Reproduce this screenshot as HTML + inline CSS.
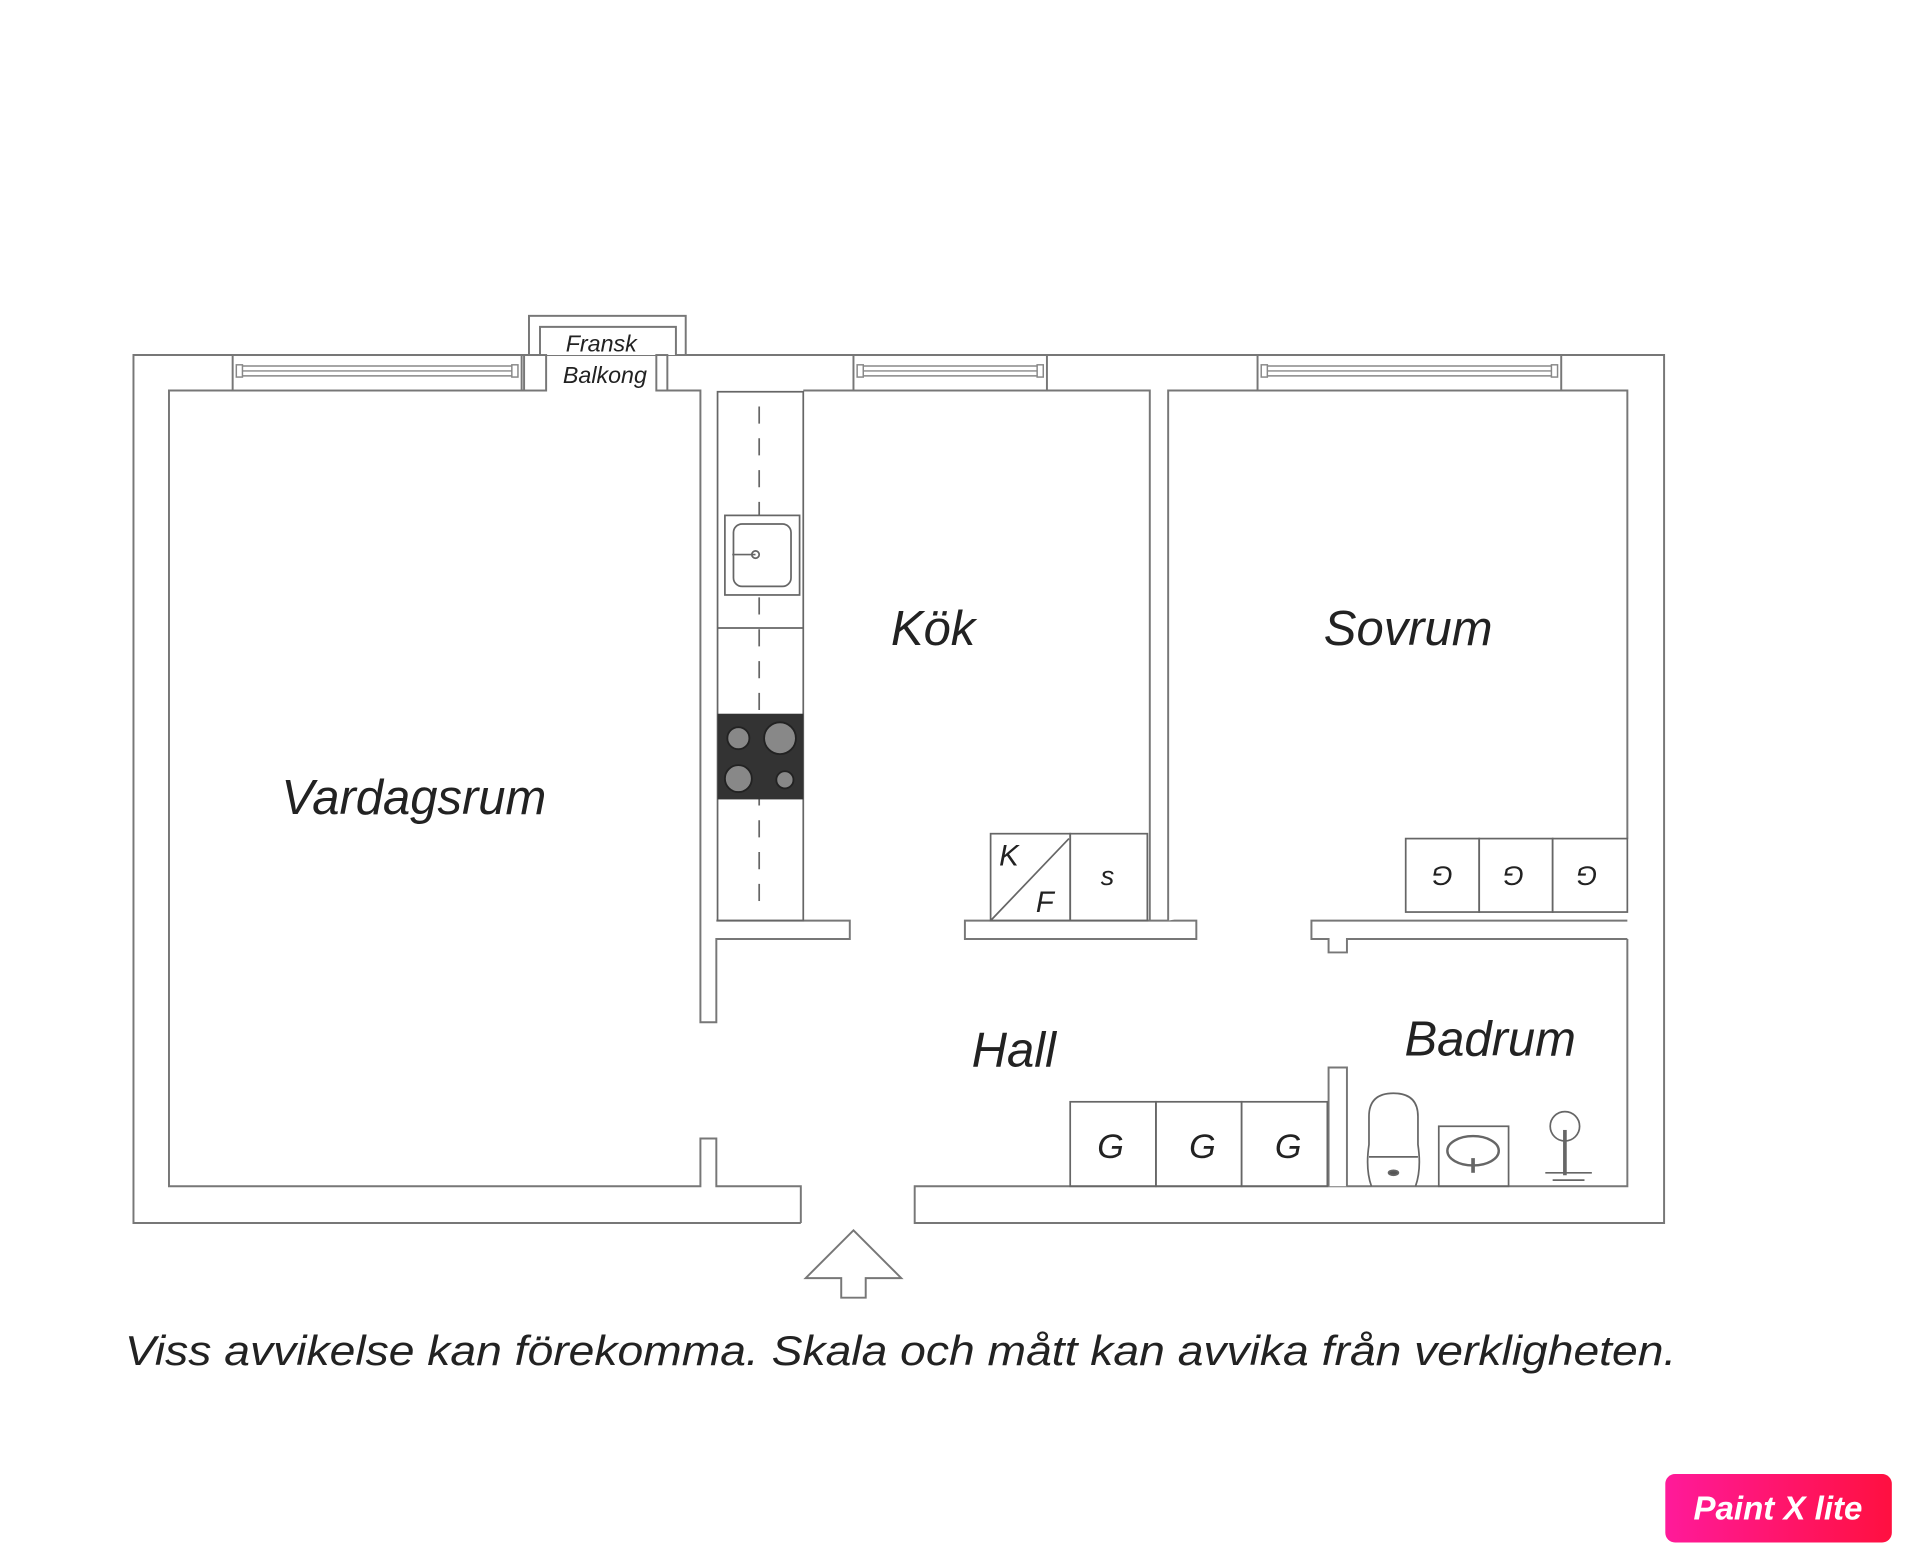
<!DOCTYPE html>
<html><head><meta charset="utf-8"><style>
html,body{margin:0;padding:0;background:#fff;width:1920px;height:1567px;overflow:hidden}
svg{display:block}
text{font-family:"Liberation Sans",sans-serif;font-style:italic;fill:#222}
</style></head><body>
<svg width="1920" height="1567" viewBox="0 0 1568 1280" preserveAspectRatio="none" xmlns="http://www.w3.org/2000/svg">
<defs>
<linearGradient id="pg" x1="0" x2="1" y1="0" y2="0"><stop offset="0" stop-color="#ff1a9a"/><stop offset="1" stop-color="#ff1040"/></linearGradient>
</defs>
<g fill="#fff" stroke="#777" stroke-width="1.6">
<rect x="432" y="258" width="128" height="32"/>
<path d="M441 290 V267 H552 V290"/>
<path d="M654 999 H109 V290 H432 M560 290 H1359 V999 H747 V969 H1329 V767"/>
<path d="M654 999 V969 H585 V930 H572 V969 H138 V319 H428 M545 319 H572 V835 H585 V767 H694 V752 H585"/>
<path d="M656 319 H939 V752 H977 V767 H788 V752 H939"/>
<path d="M954 752 V319 H1329 V685"/>
<path d="M1329 767 H1100 V778 H1085 V767 H1071 V752 H1329"/>
<path d="M1085 969 V872 H1100 V969" fill="#fff"/>
<rect x="190" y="290" width="236" height="29"/>
<rect x="697" y="290" width="158" height="29"/>
<rect x="1027" y="290" width="248" height="29"/>
<rect x="428" y="290" width="18" height="29"/>
<rect x="536" y="290" width="9" height="29"/>
</g>
<g stroke="#888" stroke-width="1.2" fill="none">
<path d="M198 299 H418 M198 303 H418 M198 307 H418"/>
<path d="M705 299 H847 M705 303 H847 M705 307 H847"/>
<path d="M1035 299 H1267 M1035 303 H1267 M1035 307 H1267"/>
<rect x="193" y="298" width="5" height="10"/><rect x="418" y="298" width="5" height="10"/>
<rect x="700" y="298" width="5" height="10"/><rect x="847" y="298" width="5" height="10"/>
<rect x="1030" y="298" width="5" height="10"/><rect x="1267" y="298" width="5" height="10"/>
</g>
<g stroke="#666" stroke-width="1.4" fill="none">
<rect x="586" y="320" width="70" height="432"/>
<line x1="586" y1="513" x2="656" y2="513"/>
<line x1="620" y1="332" x2="620" y2="745" stroke-dasharray="14,12"/>
<rect x="592" y="421" width="61" height="65" fill="#fff"/>
<rect x="599" y="428" width="47" height="51" rx="7"/>
<line x1="598" y1="453" x2="617" y2="453"/>
<circle cx="617" cy="453" r="3"/>
<rect x="809" y="681" width="65" height="71"/>
<rect x="874" y="681" width="63" height="71"/>
<line x1="809" y1="752" x2="873" y2="685"/>
<rect x="1148" y="685" width="60" height="60"/>
<rect x="1208" y="685" width="60" height="60"/>
<rect x="1268" y="685" width="61" height="60"/>
<rect x="874" y="900" width="70" height="69"/>
<rect x="944" y="900" width="70" height="69"/>
<rect x="1014" y="900" width="70" height="69"/>
<path d="M1120 969 Q1115 955 1118 935 L1118 912 Q1118 893 1138 893 Q1158 893 1158 912 L1158 935 Q1161 955 1156 969"/>
<line x1="1118" y1="945" x2="1158" y2="945"/>
<ellipse cx="1138" cy="958" rx="4" ry="2" fill="#555"/>
<rect x="1175" y="920" width="57" height="49"/>
<ellipse cx="1203" cy="940" rx="21" ry="12" stroke-width="2"/>
<line x1="1203" y1="946" x2="1203" y2="958" stroke-width="3"/>
<circle cx="1278" cy="920" r="12"/>
<line x1="1278" y1="923" x2="1278" y2="960" stroke-width="3"/>
<path d="M1262 958 H1300 M1268 964 H1294"/>
</g>
<rect x="586" y="583" width="70" height="70" fill="#333"/>
<g fill="#888" stroke="#222" stroke-width="1.5">
<circle cx="603" cy="603" r="9"/><circle cx="637" cy="603" r="13"/>
<circle cx="603" cy="636" r="11"/><circle cx="641" cy="637" r="7"/>
</g>
<polygon points="697,1005 736,1044 707,1044 707,1060 687,1060 687,1044 658,1044" fill="#fff" stroke="#777" stroke-width="1.6"/>
<text x="491" y="287" font-size="19" text-anchor="middle">Fransk</text>
<text x="494" y="313" font-size="19" text-anchor="middle">Balkong</text>
<text x="338" y="665" font-size="40" text-anchor="middle">Vardagsrum</text>
<text x="762" y="527" font-size="40" text-anchor="middle">Kök</text>
<text x="1150" y="527" font-size="40" text-anchor="middle">Sovrum</text>
<text x="828" y="871" font-size="40" text-anchor="middle">Hall</text>
<text x="1217" y="862" font-size="40" text-anchor="middle">Badrum</text>
<text x="816" y="707" font-size="24">K</text>
<text x="846" y="745" font-size="24">F</text>
<text x="899" y="723" font-size="22">s</text>
<text x="907" y="946" font-size="28" text-anchor="middle">G</text>
<text x="982" y="946" font-size="28" text-anchor="middle">G</text>
<text x="1052" y="946" font-size="28" text-anchor="middle">G</text>
<g font-size="22" text-anchor="middle">
<text transform="translate(1178,716) rotate(180)" y="8">G</text>
<text transform="translate(1236,716) rotate(180)" y="8">G</text>
<text transform="translate(1296,716) rotate(180)" y="8">G</text>
</g>
<text x="102" y="1115" font-size="34" textLength="1267" lengthAdjust="spacingAndGlyphs">Viss avvikelse kan förekomma. Skala och mått kan avvika från verkligheten.</text>
<rect x="1360" y="1204" width="185" height="56" rx="8" fill="url(#pg)"/>
<text x="1452" y="1241" font-size="27" font-weight="bold" font-style="normal" text-anchor="middle" style="fill:#fff">Paint X lite</text>
</svg>
</body></html>
